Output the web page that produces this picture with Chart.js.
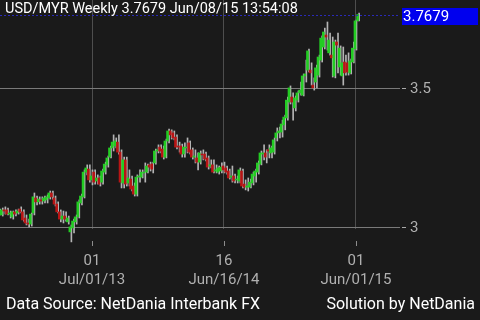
<!DOCTYPE html>
<html><head><meta charset="utf-8">
<script src="https://cdn.jsdelivr.net/npm/chart.js@4/dist/chart.umd.min.js"></script>
<style>
html,body{margin:0;padding:0;background:#1a1a1a;width:480px;height:320px;overflow:hidden;font-family:Roboto,sans-serif;}
#wrap{position:relative;width:480px;height:320px;}
canvas{position:absolute;left:0;top:0;}
.t{position:absolute;color:#fff;font-size:16px;line-height:18px;white-space:nowrap;font-family:Roboto,sans-serif;}
</style></head><body>
<div id="wrap">
<canvas id="c" width="480" height="320"></canvas>
<div class="t" style="left:5px;top:0px;font-size:14.5px;line-height:17px;">USD/MYR Weekly 3.7679 Jun/08/15 13:54:08</div>
<div class="t" style="left:6px;top:295px;">Data Source: NetDania Interbank FX</div>
<div class="t" style="right:5px;top:295px;">Solution by NetDania</div>
</div>
<script>
const dates = [
'2012-10-29','2012-11-05','2012-11-12','2012-11-19','2012-11-26','2012-12-03','2012-12-10','2012-12-17','2012-12-24','2012-12-31',
'2013-01-07','2013-01-14','2013-01-21','2013-01-28','2013-02-04','2013-02-11','2013-02-18','2013-02-25','2013-03-04','2013-03-11',
'2013-03-18','2013-03-25','2013-04-01','2013-04-08','2013-04-15','2013-04-22','2013-04-29','2013-05-06','2013-05-13','2013-05-20',
'2013-05-27','2013-06-03','2013-06-10','2013-06-17','2013-06-24','2013-07-01','2013-07-08','2013-07-15','2013-07-22','2013-07-29',
'2013-08-05','2013-08-12','2013-08-19','2013-08-26','2013-09-02','2013-09-09','2013-09-16','2013-09-23','2013-09-30','2013-10-07',
'2013-10-14','2013-10-21','2013-10-28','2013-11-04','2013-11-11','2013-11-18','2013-11-25','2013-12-02','2013-12-09','2013-12-16',
'2013-12-23','2013-12-30','2014-01-06','2014-01-13','2014-01-20','2014-01-27','2014-02-03','2014-02-10','2014-02-17','2014-02-24',
'2014-03-03','2014-03-10','2014-03-17','2014-03-24','2014-03-31','2014-04-07','2014-04-14','2014-04-21','2014-04-28','2014-05-05',
'2014-05-12','2014-05-19','2014-05-26','2014-06-02','2014-06-09','2014-06-16','2014-06-23','2014-06-30','2014-07-07','2014-07-14',
'2014-07-21','2014-07-28','2014-08-04','2014-08-11','2014-08-18','2014-08-25','2014-09-01','2014-09-08','2014-09-15','2014-09-22',
'2014-09-29','2014-10-06','2014-10-13','2014-10-20','2014-10-27','2014-11-03','2014-11-10','2014-11-17','2014-11-24','2014-12-01',
'2014-12-08','2014-12-15','2014-12-22','2014-12-29','2015-01-05','2015-01-12','2015-01-19','2015-01-26','2015-02-02','2015-02-09',
'2015-02-16','2015-02-23','2015-03-02','2015-03-09','2015-03-16','2015-03-23','2015-03-30','2015-04-06','2015-04-13','2015-04-20',
'2015-04-27','2015-05-04','2015-05-11','2015-05-18','2015-05-25','2015-06-01','2015-06-08'];

const open = [
3.061,3.047,3.065,3.065,3.050,3.040,3.058,3.054,3.068,3.058,
3.036,3.018,3.014,3.054,3.108,3.094,3.101,3.097,3.101,3.108,
3.126,3.108,3.086,3.058,3.032,3.043,3.022,2.986,3.000,3.022,
3.040,3.090,3.112,3.201,3.212,3.173,3.201,3.169,3.180,3.165,
3.201,3.227,3.255,3.288,3.295,3.309,3.273,3.162,3.245,3.162,
3.176,3.151,3.122,3.183,3.183,3.198,3.201,3.227,3.230,3.234,
3.277,3.291,3.284,3.255,3.313,3.349,3.342,3.327,3.295,3.295,
3.266,3.288,3.306,3.281,3.255,3.252,3.237,3.266,3.266,3.252,
3.223,3.227,3.205,3.201,3.205,3.223,3.216,3.205,3.183,3.187,
3.173,3.169,3.205,3.158,3.147,3.147,3.162,3.187,3.201,3.230,
3.266,3.270,3.281,3.270,3.273,3.324,3.342,3.345,3.371,3.396,
3.453,3.471,3.432,3.460,3.486,3.478,3.547,3.568,3.568,3.514,
3.525,3.550,3.604,3.651,3.694,3.630,3.622,3.547,3.669,3.579,
3.547,3.597,3.594,3.558,3.597,3.644,3.745];

const high = [
3.068,3.072,3.076,3.072,3.061,3.061,3.065,3.068,3.076,3.065,
3.047,3.032,3.054,3.126,3.115,3.112,3.112,3.115,3.119,3.133,
3.133,3.115,3.094,3.065,3.061,3.058,3.043,3.011,3.032,3.047,
3.101,3.122,3.209,3.227,3.227,3.209,3.209,3.191,3.187,3.212,
3.237,3.259,3.295,3.335,3.324,3.335,3.281,3.255,3.255,3.209,
3.187,3.162,3.191,3.209,3.209,3.234,3.230,3.237,3.237,3.284,
3.299,3.299,3.295,3.320,3.356,3.353,3.349,3.335,3.309,3.302,
3.306,3.324,3.313,3.288,3.281,3.270,3.277,3.281,3.273,3.259,
3.245,3.245,3.227,3.223,3.234,3.237,3.223,3.212,3.223,3.194,
3.187,3.216,3.212,3.173,3.180,3.176,3.201,3.212,3.241,3.277,
3.299,3.281,3.299,3.295,3.324,3.360,3.363,3.388,3.406,3.471,
3.511,3.486,3.475,3.493,3.525,3.554,3.604,3.644,3.594,3.540,
3.586,3.622,3.691,3.719,3.741,3.701,3.687,3.676,3.701,3.655,
3.651,3.622,3.630,3.608,3.669,3.748,3.773];

const low = [
3.047,3.043,3.050,3.047,3.036,3.032,3.043,3.050,3.054,3.025,
3.011,3.004,3.007,3.047,3.083,3.086,3.086,3.090,3.090,3.104,
3.104,3.079,3.054,3.022,3.018,3.025,3.014,2.950,2.982,3.014,
3.036,3.083,3.108,3.191,3.165,3.155,3.158,3.158,3.151,3.158,
3.194,3.219,3.252,3.277,3.288,3.266,3.144,3.144,3.151,3.151,
3.133,3.115,3.115,3.165,3.180,3.165,3.198,3.205,3.198,3.230,
3.270,3.270,3.248,3.252,3.306,3.320,3.317,3.284,3.273,3.255,
3.255,3.270,3.266,3.248,3.234,3.209,3.230,3.245,3.241,3.212,
3.216,3.198,3.198,3.194,3.198,3.198,3.194,3.176,3.165,3.162,
3.162,3.162,3.144,3.137,3.133,3.144,3.155,3.165,3.194,3.227,
3.245,3.234,3.252,3.252,3.266,3.313,3.324,3.327,3.353,3.388,
3.446,3.388,3.421,3.453,3.478,3.475,3.525,3.561,3.514,3.496,
3.504,3.543,3.597,3.644,3.640,3.622,3.543,3.540,3.558,3.550,
3.514,3.550,3.550,3.554,3.594,3.640,3.745];

const close = [
3.058,3.065,3.061,3.050,3.054,3.058,3.050,3.061,3.058,3.029,
3.018,3.014,3.050,3.112,3.094,3.104,3.097,3.108,3.112,3.126,
3.112,3.086,3.058,3.032,3.043,3.032,3.036,3.004,3.025,3.040,
3.094,3.115,3.201,3.216,3.173,3.187,3.165,3.180,3.158,3.205,
3.230,3.252,3.288,3.309,3.313,3.273,3.165,3.245,3.158,3.180,
3.140,3.122,3.183,3.187,3.201,3.201,3.223,3.219,3.212,3.277,
3.281,3.277,3.255,3.313,3.349,3.335,3.324,3.291,3.291,3.266,
3.291,3.291,3.273,3.255,3.259,3.237,3.270,3.263,3.248,3.219,
3.227,3.201,3.209,3.216,3.219,3.209,3.201,3.180,3.187,3.169,
3.176,3.209,3.151,3.147,3.151,3.165,3.194,3.205,3.234,3.270,
3.270,3.255,3.277,3.288,3.317,3.342,3.349,3.374,3.399,3.460,
3.504,3.453,3.468,3.486,3.496,3.547,3.554,3.637,3.558,3.504,
3.576,3.615,3.683,3.705,3.687,3.676,3.612,3.669,3.658,3.647,
3.594,3.558,3.561,3.601,3.647,3.745,3.7679];

const tickDates = ['2013-07-01','2014-06-16','2015-06-01'];
const tickDay = ['01','16','01'];
const tickText = ['Jul/01/13','Jun/16/14','Jun/01/15'];
const yTicks = [3, 3.5];

const UP = '#22cc22', DOWN = '#b81414', WICK = '#b4b4b4';
const canvas = document.getElementById('c');
const ctx = canvas.getContext('2d');

const tickIdx = tickDates.map(d => dates.indexOf(d));
const bodies = dates.map((d,i) => ({x:i, y:[open[i], close[i]]}));
const wicks = dates.map((d,i) => ({x:i, y:[low[i], high[i]]}));
const bodyColors = dates.map((d,i) => close[i] >= open[i] ? UP : DOWN);

const yTickGrad = ctx.createLinearGradient(400,0,406,0);
yTickGrad.addColorStop(0,'rgba(0,0,0,0)');
yTickGrad.addColorStop(0.33,'rgba(0,0,0,0)');
yTickGrad.addColorStop(0.34,'#aaaaaa');
yTickGrad.addColorStop(1,'#aaaaaa');

const decorations = {
  id:'decorations',
  afterDraw(chart){
    const {ctx, chartArea, scales:{x, y}} = chart;
    ctx.save();
    // x tick marks, detached below the plot
    ctx.strokeStyle = '#8c8c8c';
    ctx.lineWidth = 1;
    tickIdx.forEach(v => {
      const px = Math.round(x.getPixelForValue(v)) + 0.5;
      ctx.beginPath(); ctx.moveTo(px, chartArea.bottom + 12); ctx.lineTo(px, chartArea.bottom + 17); ctx.stroke();
    });
    // last price line and box
    const v = close[close.length-1];
    const py = Math.round(y.getPixelForValue(v)) + 0.5;
    ctx.strokeStyle = '#2a2ab8';
    ctx.setLineDash([2,2]);
    ctx.beginPath(); ctx.moveTo(0,py); ctx.lineTo(chartArea.right,py); ctx.stroke();
    ctx.setLineDash([]);
    ctx.fillStyle = '#0000ee';
    ctx.fillRect(chartArea.right+2, py-7.5, 76, 17);
    ctx.fillStyle = '#ffffff';
    ctx.font = '15px Roboto';
    ctx.textBaseline = 'middle';
    ctx.textAlign = 'left';
    ctx.fillText(v.toFixed(4), chartArea.right+3, py+1.5);
    ctx.restore();
  }
};

new Chart(ctx, {
  type:'bar',
  data:{datasets:[
    {data:bodies, backgroundColor:bodyColors, barThickness:2, clip:false},
    {data:wicks, backgroundColor:WICK, barThickness:1, clip:false}
  ]},
  options:{
    animation:false, responsive:false, maintainAspectRatio:false,
    layout:{padding:0},
    plugins:{legend:{display:false}, tooltip:{enabled:false}, title:{display:false}},
    scales:{
      x:{
        type:'linear', position:'bottom', min:0.15, max:151.67, offset:false,
        afterBuildTicks: s => { s.ticks = tickIdx.map(v => ({value:v})); },
        afterFit: s => { s.height = 91; s.paddingLeft = 0; s.paddingRight = 0; },
        ticks:{
          autoSkip:false, maxRotation:0, minRotation:0, padding:6,
          color:'#b0b0b0', font:{family:'Roboto', size:15, lineHeight:'19px'},
          callback: v => { const k = tickIdx.indexOf(v); return k < 0 ? '' : [tickDay[k], tickText[k]]; }
        },
        grid:{color:'#4e4e4e', tickLength:17, tickColor:'rgba(0,0,0,0)', lineWidth:1, offset:false},
        border:{display:false}
      },
      y:{
        type:'linear', position:'right', min:2.9964, max:3.8201,
        afterBuildTicks: s => { s.ticks = yTicks.map(v => ({value:v})); },
        afterFit: s => { s.width = 80; s.paddingTop = 0; s.paddingBottom = 0; },
        ticks:{color:'#b0b0b0', padding:4, font:{family:'Roboto', size:15}, callback: v => String(v)},
        grid:{color:'#7a7a7a', tickLength:6, tickColor:yTickGrad, lineWidth:1},
        border:{display:false}
      }
    }
  },
  plugins:[decorations]
});
</script>
</body></html>
